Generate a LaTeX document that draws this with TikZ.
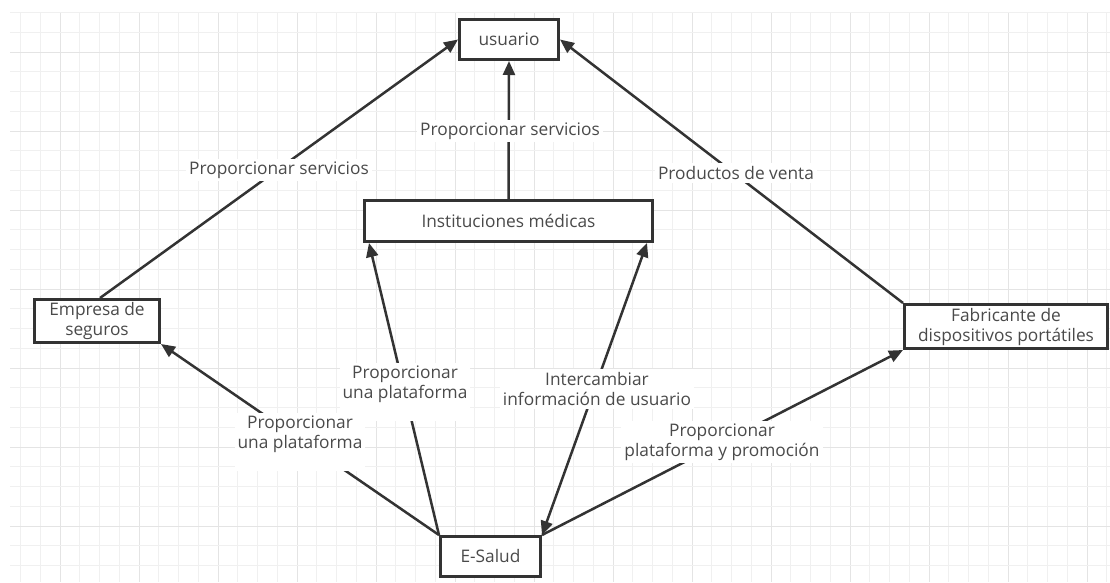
\documentclass[tikz,border=0pt]{standalone}
\usepackage{fontspec}
\setmainfont{Open Sans}
\usetikzlibrary{arrows.meta}
\definecolor{edge}{HTML}{333333}
\definecolor{txt}{HTML}{4A4A4A}
\definecolor{gridminor}{HTML}{F0F0F0}
\definecolor{gridmajor}{HTML}{E4E4E4}

\begin{document}
\begin{tikzpicture}[x=1pt,y=-1pt,
  box/.style={draw=edge, line width=3pt, fill=white, text=txt, align=center,
    inner sep=0pt, font=\fontsize{17.3}{20}\selectfont},
  lbl/.style={fill=white, text=txt, align=center, inner sep=3pt,
    font=\fontsize{17.3}{20}\selectfont},
  link/.style={draw=edge, line width=2.5pt, -{Triangle[length=14pt,width=12pt]}},
  twoway/.style={draw=edge, line width=2.5pt,
    {Triangle[length=14pt,width=12pt]}-{Triangle[length=14pt,width=12pt]}},
]
\useasboundingbox[fill=white] (0,0) rectangle (1110,582);

% background grid, a darker line every fourth step
\foreach \i in {-2,...,53} {
  \pgfmathtruncatemacro{\m}{mod(\i+8,4)}
  \ifnum\m=0 \def\gc{gridmajor}\else\def\gc{gridminor}\fi
  \draw[\gc, line width=1pt] ({60+19.75*\i},12) -- ({60+19.75*\i},582);
}
\foreach \i in {-2,...,26} {
  \pgfmathtruncatemacro{\m}{mod(\i+8,4)}
  \ifnum\m=0 \def\gc{gridmajor}\else\def\gc{gridminor}\fi
  \draw[\gc, line width=1pt] (10,{52+19.75*\i}) -- (1110,{52+19.75*\i});
}

% actors
\node[box, minimum width=99pt, minimum height=40pt] (usr) at (509,39.5) {usuario};
\node[box, minimum width=288pt, minimum height=41pt] (ins) at (508.5,221) {Instituciones médicas};
\node[box, minimum width=125pt, minimum height=43pt] (emp) at (97,321) {Empresa de\\seguros};
\node[box, minimum width=203pt, minimum height=44pt] (fab) at (1006,326.5) {Fabricante de\\dispositivos portátiles};
\node[box, minimum width=100pt, minimum height=40pt] (esa) at (490.5,556.5) {E-Salud};

% relations
\draw[link] ([xshift=3pt]emp.north) -- (usr.west);
\draw[link] (ins.north) -- (usr.south);
\draw[link] (fab.north west) -- (usr.east);
\draw[link] (esa.north west) -- (emp.south east);
\draw[link] (esa.north west) -- ([xshift=6pt]ins.south west);
\draw[twoway] ([xshift=-7pt]ins.south east) -- (esa.north east);
\draw[link] (esa.north east) -- (fab.south west);

% relation labels (the two platform labels carry an empty last line)
\node[lbl] (l1) at (279,170) {Proporcionar servicios};
\node[lbl] (l2) at (510,131) {Proporcionar servicios};
\node[lbl] (l3) at (736,173) {Productos de venta};
\node[lbl] (l5) at (405,392) {Proporcionar\\una plataforma\\\mbox{}};
\node[lbl] (l4) at (300,442) {Proporcionar\\una plataforma\\\mbox{}};
\node[lbl] (l6) at (597,389) {Intercambiar\\información de usuario};
\node[lbl] (l7) at (722,442) {Proporcionar\\plataforma y promoción};
\end{tikzpicture}
\end{document}
